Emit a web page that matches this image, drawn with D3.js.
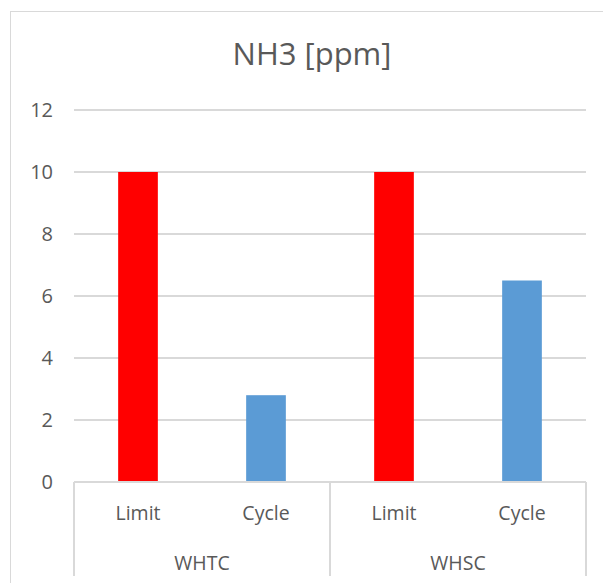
<!DOCTYPE html>
<html>
<head>
<meta charset="utf-8">
<script src="https://cdn.jsdelivr.net/npm/d3@7"></script>
<style>
  body { margin: 0; background: #fff; }
  text { font-family: "Open Sans", "Liberation Sans", sans-serif; fill: #595959; }
</style>
</head>
<body>
<div id="chart"></div>
<script>
// Chart data
const groups = ["WHTC", "WHSC"];
const subCategories = ["Limit", "Cycle"];
const values = [10, 2.8, 10, 6.5];
const yTicks = [0, 2, 4, 6, 8, 10, 12];
const title = "NH3 [ppm]";

const width = 603;
const height = 583;
const margin = { top: 110, right: 17, bottom: 101, left: 74 };

const colors = { "Limit": "#ff0000", "Cycle": "#5b9bd5" };

// flatten into leaf categories
const leaves = [];
groups.forEach((g, gi) => {
    subCategories.forEach((s, si) => {
        leaves.push({ group: g, sub: s, key: g + "|" + s, value: values[gi * subCategories.length + si] });
    });
});

const svg = d3.select("#chart")
    .append("svg")
    .attr("width", width)
    .attr("height", height);

// chart border
svg.append("rect")
    .attr("x", 10.5)
    .attr("y", 11.5)
    .attr("width", 620)
    .attr("height", 600)
    .attr("fill", "none")
    .attr("stroke", "#d9d9d9")
    .attr("stroke-width", 1);

const xScale = d3.scaleBand()
    .domain(leaves.map(d => d.key))
    .range([margin.left, width - margin.right]);

const groupScale = d3.scaleBand()
    .domain(groups)
    .range([margin.left, width - margin.right]);

const yScale = d3.scaleLinear()
    .domain([0, 12])
    .range([height - margin.bottom, margin.top]);

// Title
svg.append("text")
    .attr("x", 312)
    .attr("y", 65)
    .attr("text-anchor", "middle")
    .style("font-size", "31px")
    .text(title);

// Grid lines
svg.append("g")
    .selectAll("line")
    .data(yTicks.filter(d => d > 0))
    .enter()
    .append("line")
    .attr("x1", margin.left)
    .attr("x2", width - margin.right)
    .attr("y1", d => yScale(d))
    .attr("y2", d => yScale(d))
    .attr("stroke", "#d9d9d9")
    .attr("stroke-width", 2);

// Y tick labels
svg.append("g")
    .selectAll("text")
    .data(yTicks)
    .enter()
    .append("text")
    .attr("x", 53)
    .attr("y", d => yScale(d))
    .attr("dy", "0.36em")
    .attr("text-anchor", "end")
    .style("font-size", "20px")
    .text(d => d);

// Bars
const barWidth = xScale.bandwidth() * 0.31;
svg.append("g")
    .selectAll("rect")
    .data(leaves)
    .enter()
    .append("rect")
    .attr("x", d => xScale(d.key) + (xScale.bandwidth() - barWidth) / 2)
    .attr("y", d => yScale(d.value))
    .attr("width", barWidth)
    .attr("height", d => yScale(0) - yScale(d.value))
    .attr("fill", d => colors[d.sub]);

// Category axis (multi-level)
const axisY = yScale(0);
const axisG = svg.append("g")
    .attr("stroke", "#d9d9d9")
    .attr("stroke-width", 2);

axisG.append("line")
    .attr("x1", margin.left)
    .attr("x2", width - margin.right)
    .attr("y1", axisY)
    .attr("y2", axisY);

const dividers = groups.map(g => groupScale(g)).concat([width - margin.right]);
axisG.selectAll(".div")
    .data(dividers)
    .enter()
    .append("line")
    .attr("x1", d => d)
    .attr("x2", d => d)
    .attr("y1", axisY)
    .attr("y2", 576);

svg.append("g")
    .selectAll("text")
    .data(leaves)
    .enter()
    .append("text")
    .attr("x", d => xScale(d.key) + xScale.bandwidth() / 2)
    .attr("y", 520)
    .attr("text-anchor", "middle")
    .style("font-size", "19.5px")
    .text(d => d.sub);

svg.append("g")
    .selectAll("text")
    .data(groups)
    .enter()
    .append("text")
    .attr("x", d => groupScale(d) + groupScale.bandwidth() / 2)
    .attr("y", 570)
    .attr("text-anchor", "middle")
    .style("font-size", "19.5px")
    .text(d => d);
</script>
</body>
</html>
